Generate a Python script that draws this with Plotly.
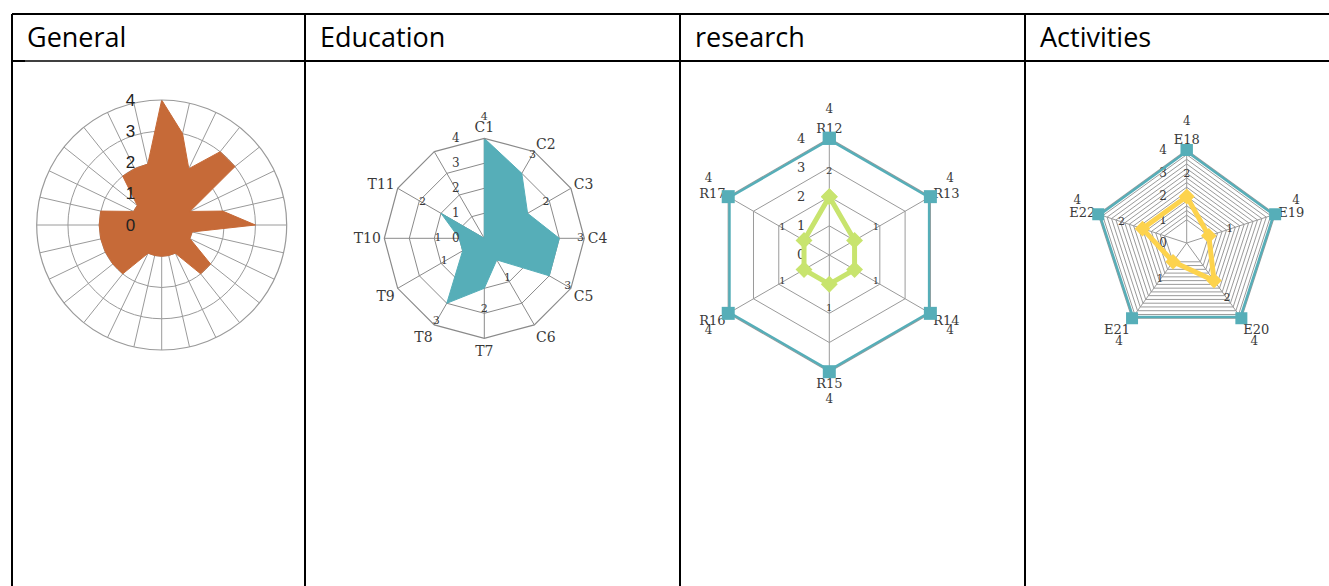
import plotly.graph_objects as go

W, H = 1329, 586

# ---------------- data ----------------
headers = ["General", "Education", "research", "Activities"]

general_categories = ["G%d" % (i + 1) for i in range(28)]
general_values = [4, 3, 2, 3, 3, 1, 2, 3, 1, 1, 2, 2, 1, 1,
                  1, 1, 1, 2, 2, 2, 2, 2, 2, 1, 1, 2, 2, 2]

education_categories = ["C1", "C2", "C3", "C4", "C5", "C6",
                        "T7", "T8", "T9", "T10", "T11", " "]
education_values = [4, 3, 2, 3, 3, 1, 2, 3, 1, 1, 2, 0]

research_categories = ["R12", "R13", "R14", "R15", "R16", "R17"]
research_target = [4, 4, 4, 4, 4, 4]
research_values = [2, 1, 1, 1, 1, 1]

activities_categories = ["E18", "E19", "E20", "E21", "E22"]
activities_target = [4, 4, 4, 4, 4]
activities_values = [2, 1, 2, 1, 2]

radial_ticks = [0, 1, 2, 3, 4]
RMAX = 4

# ---------------- styles ----------------
ORANGE = "#C66A38"
TEAL = "#56AEB8"
GREEN = "#C8E46E"
YELLOW = "#FDD34D"
GRID = "#9a9a9a"
LABEL = "#3a3a3a"
SERIF = "DejaVu Serif"
K = 1.4  # label overlay scale

research_label_pos = ["top center", "top center", "bottom center",
                      "bottom center", "bottom center", "top center"]
activities_label_pos = ["top center", "top center", "bottom center",
                        "bottom center", "top center"]

# chart geometry (centre x, centre y, radius in px)
GEN = (161.7, 225, 125)
EDU = (484.3, 238.3, 100)
RES = (829.3, 255, 116.7)
ACT = (1186.7, 243, 93)


def closed(seq):
    return list(seq) + [seq[0]]


def dom(cx, cy, R):
    return dict(x=[(cx - R) / W, (cx + R) / W],
                y=[1 - (cy + R) / H, 1 - (cy - R) / H])


def label_r(vals, off):
    return [v + off for v in vals]


def label_t(vals):
    return [str(v) if v else "" for v in vals]


fig = go.Figure()

# ---- General ----
fig.add_trace(go.Scatterpolar(
    r=closed(general_values), theta=closed(general_categories),
    mode="lines", fill="toself", fillcolor=ORANGE,
    line=dict(color=ORANGE, width=1), subplot="polar", hoverinfo="skip"))

# ---- Education ----
fig.add_trace(go.Scatterpolar(
    r=closed(education_values), theta=closed(education_categories),
    mode="lines", fill="toself", fillcolor=TEAL,
    line=dict(color=TEAL, width=1), subplot="polar2", hoverinfo="skip"))
fig.add_trace(go.Scatterpolar(
    r=label_r(education_values, 0.85), theta=education_categories,
    mode="text", text=label_t(education_values),
    textfont=dict(family=SERIF, size=11, color=LABEL),
    subplot="polar5", hoverinfo="skip"))

# ---- research ----
fig.add_trace(go.Scatterpolar(
    r=closed(research_target), theta=closed(research_categories),
    mode="lines+markers", line=dict(color=TEAL, width=5),
    marker=dict(symbol="square", size=13, color=TEAL), cliponaxis=False,
    subplot="polar3", hoverinfo="skip"))
fig.add_trace(go.Scatterpolar(
    r=closed(research_values), theta=closed(research_categories),
    mode="lines+markers", line=dict(color=GREEN, width=5),
    marker=dict(symbol="diamond", size=13, color=GREEN),
    subplot="polar3", hoverinfo="skip"))
fig.add_trace(go.Scatterpolar(
    r=label_r(research_target, 0.78), theta=research_categories,
    mode="text", text=label_t(research_target), textposition=research_label_pos,
    textfont=dict(family=SERIF, size=12, color=LABEL),
    subplot="polar6", hoverinfo="skip"))
fig.add_trace(go.Scatterpolar(
    r=label_r(research_values, 0.85), theta=research_categories,
    mode="text", text=label_t(research_values),
    textfont=dict(family=SERIF, size=10, color=LABEL),
    subplot="polar6", hoverinfo="skip"))

# ---- Activities ----
fig.add_trace(go.Scatterpolar(
    r=closed(activities_target), theta=closed(activities_categories),
    mode="lines+markers", line=dict(color=TEAL, width=5),
    marker=dict(symbol="square", size=12, color=TEAL), cliponaxis=False,
    subplot="polar4", hoverinfo="skip"))
fig.add_trace(go.Scatterpolar(
    r=closed(activities_values), theta=closed(activities_categories),
    mode="lines+markers", line=dict(color=YELLOW, width=5),
    marker=dict(symbol="diamond", size=12, color=YELLOW),
    subplot="polar4", hoverinfo="skip"))
fig.add_trace(go.Scatterpolar(
    r=label_r(activities_target, 0.95), theta=activities_categories,
    mode="text", text=label_t(activities_target), textposition=activities_label_pos,
    textfont=dict(family=SERIF, size=12, color=LABEL),
    subplot="polar7", hoverinfo="skip"))
fig.add_trace(go.Scatterpolar(
    r=label_r(activities_values, 0.95), theta=activities_categories,
    mode="text", text=label_t(activities_values),
    textfont=dict(family=SERIF, size=11, color=LABEL),
    subplot="polar7", hoverinfo="skip"))


def polar_layout(geom, shape, ticklen, tickfont, layer, gridcolor=GRID,
                 show_cat=True, rtickvals=radial_ticks, rticktext=None,
                 gridwidth=1, catsize=13):
    cx, cy, R = geom
    return dict(
        domain=dom(cx, cy, R),
        bgcolor="rgba(0,0,0,0)",
        gridshape=shape,
        angularaxis=dict(
            type="category", direction="clockwise", rotation=90,
            showticklabels=show_cat, ticks="",
            tickfont=dict(family=SERIF, size=catsize, color=LABEL),
            gridcolor=gridcolor, gridwidth=1.2,
            showline=True, linecolor=gridcolor, linewidth=1.2,
            layer=layer),
        radialaxis=dict(
            range=[0, RMAX], tickvals=rtickvals,
            ticktext=rticktext if rticktext is not None else [str(t) for t in rtickvals],
            angle=90, side="counterclockwise", showline=False,
            gridcolor=gridcolor, gridwidth=gridwidth,
            ticks="outside", ticklen=ticklen, tickcolor="rgba(0,0,0,0)",
            tickfont=tickfont, tickangle=90, layer=layer),
    )


def overlay_layout(geom, shape):
    # invisible polar sharing the same centre and the same px-per-unit scale,
    # with a wider radial range so value labels outside the grid can be drawn
    cx, cy, R = geom
    return dict(
        domain=dom(cx, cy, R * K),
        bgcolor="rgba(0,0,0,0)",
        gridshape=shape,
        angularaxis=dict(type="category", direction="clockwise", rotation=90,
                         showticklabels=False, showgrid=False, showline=False,
                         ticks=""),
        radialaxis=dict(range=[0, RMAX * K], visible=False, showgrid=False),
    )


fine_ticks = [0, 1] + [1 + i * 0.2 for i in range(1, 16)]
fine_text = [str(round(t)) if abs(t - round(t)) < 1e-9 else "" for t in fine_ticks]

fig.update_layout(
    width=W, height=H,
    margin=dict(l=0, r=0, t=0, b=0),
    paper_bgcolor="white", plot_bgcolor="white",
    showlegend=False,
    polar=polar_layout(GEN, "circular", 20,
                       dict(family="Liberation Sans", size=17, color="#222"),
                       "above traces", show_cat=False),
    polar2=polar_layout(EDU, "linear", 20,
                        dict(family=SERIF, size=12, color=LABEL),
                        "above traces", gridcolor="#8a8a8a", catsize=14),
    polar3=polar_layout(RES, "linear", 19,
                        dict(family=SERIF, size=13, color=LABEL),
                        "below traces"),
    polar4=polar_layout(ACT, "linear", 15,
                        dict(family=SERIF, size=12, color=LABEL),
                        "below traces", gridcolor="#9a9a9a",
                        rtickvals=fine_ticks, rticktext=fine_text,
                        gridwidth=0.8),
    polar5=overlay_layout(EDU, "linear"),
    polar6=overlay_layout(RES, "linear"),
    polar7=overlay_layout(ACT, "linear"),
)

# ---------------- table ----------------
def px_x(x):
    return x / W


def px_y(y):
    return 1 - y / H


col_lines = [12, 305, 680, 1025]
header_top, header_bottom = 14, 61
shapes = []
shapes.append(dict(type="line", xref="paper", yref="paper",
                   x0=px_x(12), x1=1, y0=px_y(header_top), y1=px_y(header_top),
                   line=dict(color="black", width=2)))
shapes.append(dict(type="line", xref="paper", yref="paper",
                   x0=px_x(12), x1=px_x(25), y0=px_y(header_bottom), y1=px_y(header_bottom),
                   line=dict(color="black", width=2)))
shapes.append(dict(type="line", xref="paper", yref="paper",
                   x0=px_x(25), x1=px_x(290), y0=px_y(header_bottom), y1=px_y(header_bottom),
                   line=dict(color="black", width=1.3)))
shapes.append(dict(type="line", xref="paper", yref="paper",
                   x0=px_x(290), x1=1, y0=px_y(header_bottom), y1=px_y(header_bottom),
                   line=dict(color="black", width=2)))
for xc in col_lines:
    shapes.append(dict(type="line", xref="paper", yref="paper",
                       x0=px_x(xc), x1=px_x(xc), y0=px_y(header_top), y1=0,
                       line=dict(color="black", width=2)))
fig.update_layout(shapes=shapes)

for xc, txt in zip(col_lines, headers):
    fig.add_annotation(x=px_x(xc + 13), y=px_y(36), xref="paper", yref="paper",
                       text=txt, showarrow=False, xanchor="left", yanchor="middle",
                       font=dict(family="Open Sans", size=27, color="black"))

fig.write_html("out.html", config={"displayModeBar": False},
               post_script="document.body.style.margin='0';document.body.style.overflow='hidden';")
